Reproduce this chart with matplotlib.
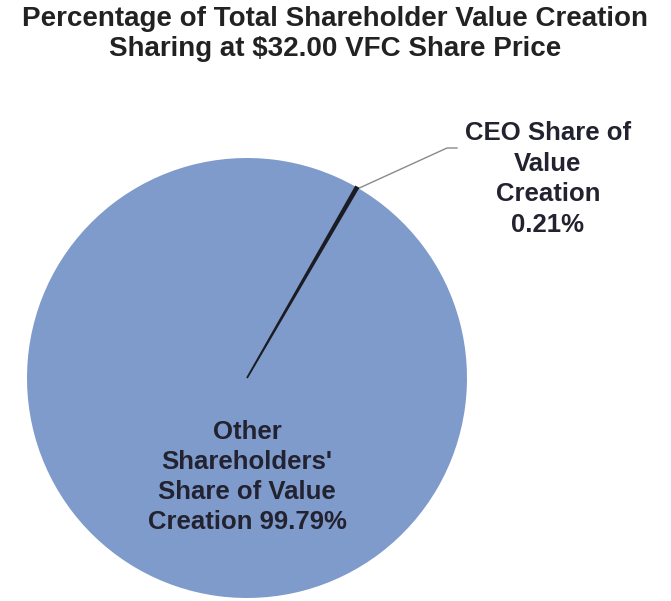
import matplotlib.pyplot as plt

# Daten
labels = ["CEO Share of\nValue\nCreation\n0.21%", "Other\nShareholders'\nShare of Value\nCreation 99.79%"]
values = [0.21, 99.79]
colors = ["#1c1c24", "#7f9bcc"]
title = "Percentage of Total Shareholder Value Creation\nSharing at $32.00 VFC Share Price"

W, H = 671, 601
fig = plt.figure(figsize=(W / 100, H / 100), dpi=100)
fig.patch.set_facecolor("white")

# Pie-Achse: quadratisch, Mitte bei ca. (247, 378) px, Radius 220 px
ax = fig.add_axes([27 / W, 3 / H, 440 / W, 440 / H])
wedges, _ = ax.pie(
    values,
    colors=colors,
    startangle=60.4,
    counterclock=False,
    radius=1.0,
    wedgeprops=dict(linewidth=0.0),
)
# CEO-Segment etwas kräftiger und obenauf zeichnen
wedges[0].set_linewidth(1.3)
wedges[0].set_edgecolor("#1c1c24")
wedges[0].set_zorder(5)
ax.set_xlim(-1, 1)
ax.set_ylim(-1, 1)
ax.set_aspect("equal")
ax.axis("off")


def px2data(x, y):
    """Pixel (von oben links) -> Datenkoordinaten der Pie-Achse"""
    return ((x - 247) / 220.0, (378 - y) / 220.0)


font = ["Liberation Sans", "DejaVu Sans"]

# Beschriftung innen
ix, iy = px2data(247, 477)
ax.text(ix, iy, labels[1], ha="center", va="center", fontsize=18.5,
        fontweight="bold", color="#222230", linespacing=1.32, family=font)

# CEO-Beschriftung
cx, cy = px2data(548, 179)
ax.text(cx, cy, labels[0], ha="center", va="center", fontsize=18.5,
        fontweight="bold", color="#222230", linespacing=1.36, family=font,
        clip_on=False)

# Führungslinie
p0 = px2data(355, 190)
p1 = px2data(447, 148)
p2 = px2data(457, 148)
ax.plot([p0[0], p1[0], p2[0]], [p0[1], p1[1], p2[1]], color="#8a8a8a",
        linewidth=1.0, clip_on=False)

fig.text(0.5, 1 - 34 / H, title, ha="center", va="center", fontsize=20,
         fontweight="bold", color="#222222", linespacing=1.15, family=font)

fig.savefig("out.png", dpi=100)
